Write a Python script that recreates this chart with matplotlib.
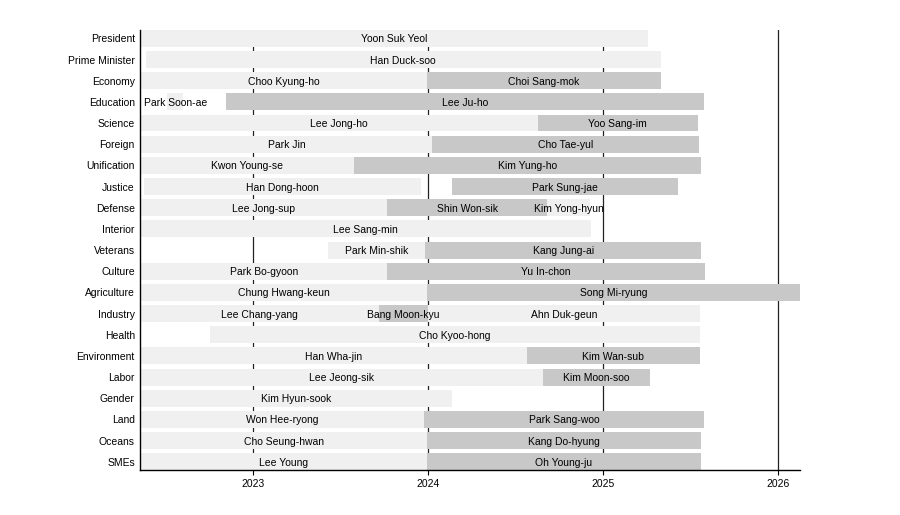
import matplotlib
matplotlib.use("Agg")
import matplotlib.pyplot as plt
import matplotlib.dates as mdates
import pandas as pd

plt.rcParams['font.family'] = ['Liberation Sans', 'DejaVu Sans']

# Rows (top to bottom)
offices = ["President", "Prime Minister", "Economy", "Education", "Science", "Foreign",
           "Unification", "Justice", "Defense", "Interior", "Veterans", "Culture",
           "Agriculture", "Industry", "Health", "Environment", "Labor", "Gender",
           "Land", "Oceans", "SMEs"]

# Office holders (parallel lists)
holder_office = ["President", "Prime Minister",
                 "Economy", "Economy",
                 "Education", "Education",
                 "Science", "Science",
                 "Foreign", "Foreign",
                 "Unification", "Unification",
                 "Justice", "Justice",
                 "Defense", "Defense", "Defense",
                 "Interior",
                 "Veterans", "Veterans",
                 "Culture", "Culture",
                 "Agriculture", "Agriculture",
                 "Industry", "Industry", "Industry",
                 "Health",
                 "Environment", "Environment",
                 "Labor", "Labor",
                 "Gender",
                 "Land", "Land",
                 "Oceans", "Oceans",
                 "SMEs", "SMEs"]
holder_name = ["Yoon Suk Yeol", "Han Duck-soo",
               "Choo Kyung-ho", "Choi Sang-mok",
               "Park Soon-ae", "Lee Ju-ho",
               "Lee Jong-ho", "Yoo Sang-im",
               "Park Jin", "Cho Tae-yul",
               "Kwon Young-se", "Kim Yung-ho",
               "Han Dong-hoon", "Park Sung-jae",
               "Lee Jong-sup", "Shin Won-sik", "Kim Yong-hyun",
               "Lee Sang-min",
               "Park Min-shik", "Kang Jung-ai",
               "Park Bo-gyoon", "Yu In-chon",
               "Chung Hwang-keun", "Song Mi-ryung",
               "Lee Chang-yang", "Bang Moon-kyu", "Ahn Duk-geun",
               "Cho Kyoo-hong",
               "Han Wha-jin", "Kim Wan-sub",
               "Lee Jeong-sik", "Kim Moon-soo",
               "Kim Hyun-sook",
               "Won Hee-ryong", "Park Sang-woo",
               "Cho Seung-hwan", "Kang Do-hyung",
               "Lee Young", "Oh Young-ju"]
holder_start = ["2022-05-10", "2022-05-21",
                "2022-05-10", "2023-12-29",
                "2022-07-05", "2022-11-05",
                "2022-05-10", "2024-08-17",
                "2022-05-10", "2024-01-10",
                "2022-05-10", "2023-07-30",
                "2022-05-17", "2024-02-19",
                "2022-05-10", "2023-10-07", "2024-09-06",
                "2022-05-10",
                "2023-06-05", "2023-12-25",
                "2022-05-10", "2023-10-07",
                "2022-05-10", "2023-12-29",
                "2022-05-10", "2023-09-20", "2024-01-01",
                "2022-10-02",
                "2022-05-10", "2024-07-25",
                "2022-05-10", "2024-08-29",
                "2022-05-10",
                "2022-05-10", "2023-12-23",
                "2022-05-10", "2023-12-29",
                "2022-05-10", "2023-12-29"]
holder_end = ["2025-04-04", "2025-05-01",
              "2023-12-29", "2025-05-01",
              "2022-08-08", "2025-07-31",
              "2024-08-17", "2025-07-17",
              "2024-01-10", "2025-07-19",
              "2023-07-30", "2025-07-25",
              "2023-12-18", "2025-06-05",
              "2023-10-07", "2024-09-06", "2024-12-05",
              "2024-12-06",
              "2023-12-25", "2025-07-25",
              "2023-10-07", "2025-08-01",
              "2023-12-29", "2026-02-16",
              "2023-09-20", "2024-01-01", "2025-07-21",
              "2025-07-21",
              "2024-07-25", "2025-07-21",
              "2024-08-29", "2025-04-08",
              "2024-02-20",
              "2023-12-23", "2025-07-31",
              "2023-12-29", "2025-07-23",
              "2023-12-29", "2025-07-23"]

light = "#f0f0f0"
dark = "#c8c8c8"
fs = 7.5

fig = plt.figure(figsize=(9, 5.15), dpi=100)
ax = fig.add_axes([0.156, 0.087, 0.733, 0.855])

starts = pd.to_datetime(holder_start)
ends = pd.to_datetime(holder_end)
row_index = {o: i for i, o in enumerate(offices)}
seen = {}
for off, name, s, e in zip(holder_office, holder_name, starts, ends):
    k = seen.get(off, 0)
    seen[off] = k + 1
    y = row_index[off]
    s_num = mdates.date2num(s)
    e_num = mdates.date2num(e)
    ax.barh(y, e_num - s_num, left=s_num, height=0.8,
            color=light if k % 2 == 0 else dark, linewidth=0, zorder=2)
    ax.text((s_num + e_num) / 2, y, name, ha='center', va='center_baseline',
            fontsize=fs, color='black', zorder=3)

ax.set_yticks(range(len(offices)))
ax.set_yticklabels(offices, fontsize=fs, va='center_baseline')
ax.set_ylim(len(offices) - 1 + 0.4, -0.4)
ax.set_xlim(mdates.date2num(starts.min()), mdates.date2num(ends.max()))

ax.xaxis.set_major_locator(mdates.YearLocator())
ax.xaxis.set_major_formatter(mdates.DateFormatter('%Y'))
ax.tick_params(axis='x', labelsize=fs, length=3.5, width=0.8, direction='out', pad=2.5)
ax.tick_params(axis='y', length=0, pad=4)

ax.grid(axis='x', color='#222222', linewidth=0.9, zorder=0)
ax.set_axisbelow(True)
for sp in ['top', 'right']:
    ax.spines[sp].set_visible(False)
for sp in ['left', 'bottom']:
    ax.spines[sp].set_linewidth(1.0)
    ax.spines[sp].set_color('black')

fig.savefig("out.png", dpi=100)
